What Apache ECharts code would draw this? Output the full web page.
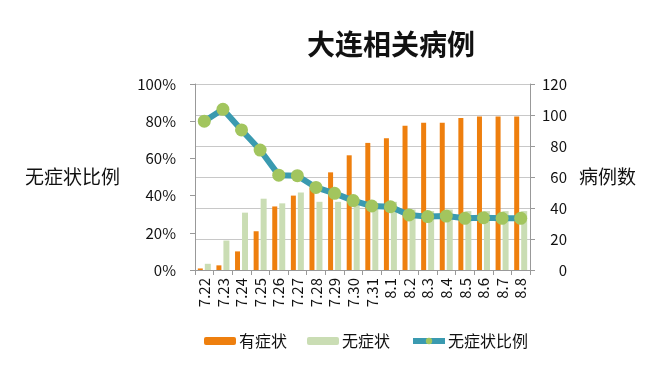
<!DOCTYPE html>
<html><head><meta charset="utf-8">
<script src="https://cdn.jsdelivr.net/npm/echarts@6/dist/echarts.min.js"></script>
<style>html,body{margin:0;padding:0;background:#fff}#c{width:664px;height:371px}</style>
</head><body><div id="c"></div>
<script>
const categories = ['7.22','7.23','7.24','7.25','7.26','7.27','7.28','7.29','7.30','7.31','8.1','8.2','8.3','8.4','8.5','8.6','8.7','8.8'];
const symptomatic = [1,3,12,25,41,48,53,63,74,82,85,93,95,95,98,99,99,99];
const asymptomatic = [4,19,37,46,43,50,44,44,44,43,44,39,38,39,38,38,38,38];
const asymRatio = [0.80,0.864,0.753,0.645,0.51,0.507,0.444,0.412,0.373,0.344,0.34,0.296,0.287,0.29,0.278,0.281,0.278,0.278];
const leftTicks = [0,0.2,0.4,0.6,0.8,1];
const rightTicks = [0,20,40,60,80,100,120];

const font = '"Noto Sans CJK SC", "Noto Sans", sans-serif';
const chart = echarts.init(document.getElementById('c'));
chart.setOption({
  animation:false,
  title:{text:'大连相关病例',left:386,top:25,textAlign:'center',
    textStyle:{fontFamily:font,fontSize:28,fontWeight:'bold',color:'#111'}},
  legend:{top:328,left:199,itemGap:20,itemWidth:32,itemHeight:8,
    textStyle:{fontFamily:font,fontSize:16,color:'#111',padding:[0,0,0,-2]},
    data:['有症状','无症状',{name:'无症状比例',lineStyle:{width:6,color:'#3A9AB0'},itemStyle:{color:'#A2C55E'}}]},
  grid:{left:195,right:134,top:84,bottom:101},
  xAxis:{type:'category',data:categories,
    axisLine:{lineStyle:{color:'#999'}},
    axisTick:{show:true,length:5,lineStyle:{color:'#999'}},
    axisLabel:{rotate:90,interval:0,fontFamily:font,fontSize:15,color:'#111',margin:8}},
  yAxis:[
    {type:'value',min:0,max:1,interval:0.2,position:'left',
      name:'无症状比例',nameLocation:'middle',nameRotate:0,nameGap:75,
      nameTextStyle:{fontFamily:font,fontSize:19,color:'#111'},
      axisLine:{show:true,lineStyle:{color:'#999'}},
      axisTick:{show:true,length:5,lineStyle:{color:'#999'}},
      splitLine:{show:false},
      axisLabel:{fontFamily:font,fontSize:15,color:'#111',margin:19,
        formatter:v=>Math.round(v*100)+'%'}},
    {type:'value',min:0,max:120,interval:20,position:'right',
      name:'病例数',nameLocation:'middle',nameRotate:0,nameGap:49,
      nameTextStyle:{fontFamily:font,fontSize:19,color:'#111'},
      axisLine:{show:true,lineStyle:{color:'#999'}},
      axisTick:{show:true,length:5,lineStyle:{color:'#999'}},
      splitLine:{show:true,lineStyle:{color:'#c8c8c8',width:1}},
      axisLabel:{fontFamily:font,fontSize:15,color:'#111',margin:37,align:'right'}}
  ],
  series:[
    {name:'有症状',type:'bar',yAxisIndex:1,data:symptomatic,barWidth:5,barGap:'40%',
      itemStyle:{color:'#EE7F0E'}},
    {name:'无症状',type:'bar',yAxisIndex:1,data:asymptomatic,barWidth:6,
      itemStyle:{color:'#CADDB4'}},
    {name:'无症状比例',type:'line',yAxisIndex:0,data:asymRatio,
      symbol:'circle',symbolSize:13,showAllSymbol:true,
      lineStyle:{color:'#3A9AB0',width:6},
      itemStyle:{color:'#A2C55E',borderWidth:0}}
  ]
});
</script></body></html>
